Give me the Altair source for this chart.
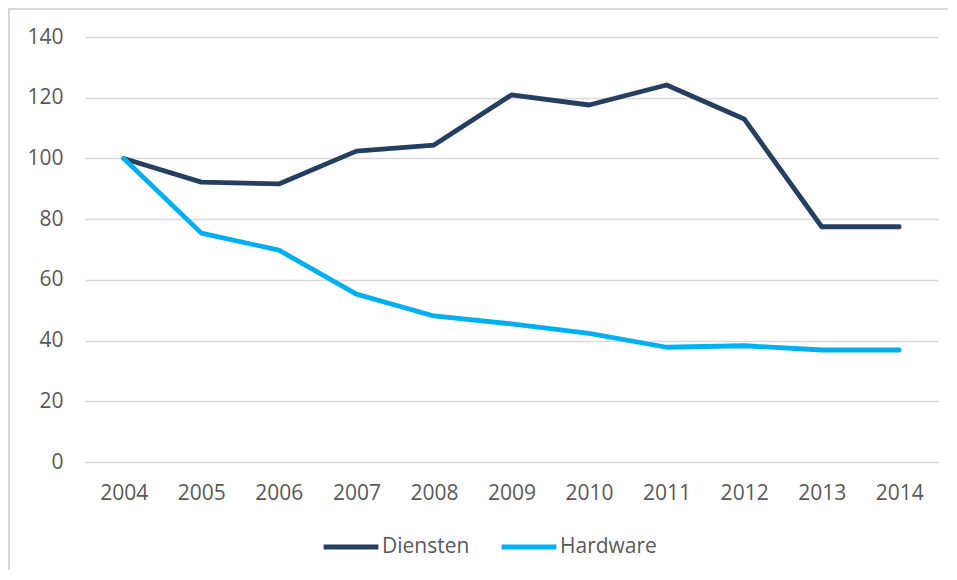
import altair as alt
import pandas as pd

years = ["2004", "2005", "2006", "2007", "2008", "2009", "2010", "2011", "2012", "2013", "2014"]
diensten = [100, 92.2, 91.6, 102.4, 104.4, 120.9, 117.6, 124.2, 113.0, 77.5, 77.5]
hardware = [100, 75.4, 69.8, 55.3, 48.1, 45.5, 42.4, 37.8, 38.3, 36.9, 36.9]
series_names = ["Diensten", "Hardware"]
series_colors = ["#243F60", "#00B0F0"]

rows = []
for y, d, h in zip(years, diensten, hardware):
    rows.append({"jaar": y, "serie": "Diensten", "waarde": d})
    rows.append({"jaar": y, "serie": "Hardware", "waarde": h})
df = pd.DataFrame(rows)

W, H = 853, 425
FONT = "Open Sans"

frame = alt.Chart(alt.Data(values=[{}])).mark_rect(
    filled=False, stroke="#d9d9d9", strokeWidth=2
).encode(
    x=alt.value(-76), x2=alt.value(W + 40),
    y=alt.value(-28), y2=alt.value(H + 140)
)

lines = alt.Chart(df).mark_line(strokeWidth=4.8, strokeCap="round", strokeJoin="round").encode(
    x=alt.X("jaar:N", sort=years,
            scale=alt.Scale(type="point", padding=0.5),
            axis=alt.Axis(title=None, labelAngle=0, ticks=False, domain=False,
                          grid=False, labelPadding=20)),
    y=alt.Y("waarde:Q",
            scale=alt.Scale(domain=[0, 140], nice=False),
            axis=alt.Axis(title=None, values=list(range(0, 141, 20)), ticks=False,
                          domain=False, grid=True, labelPadding=22)),
    color=alt.Color("serie:N", sort=series_names,
                    scale=alt.Scale(domain=series_names, range=series_colors),
                    legend=alt.Legend(title=None, orient="none", direction="horizontal",
                                      legendX=236, legendY=480,
                                      symbolType="stroke", symbolSize=3000,
                                      symbolStrokeWidth=4.8, columnPadding=22,
                                      labelOffset=1)),
)

chart = alt.layer(frame, lines).properties(
    width=W, height=H,
    autosize=alt.AutoSizeParams(type="none"),
    padding={"left": 77, "top": 29, "right": 10, "bottom": 108},
).configure_view(stroke=None).configure_axis(
    labelFont=FONT, labelFontSize=21, labelColor="#595959",
    gridColor="#d9d9d9", gridWidth=1.5,
).configure_legend(
    labelFont=FONT, labelFontSize=21, labelColor="#595959",
)

chart.save("out.html", embed_options={"renderer": "svg", "actions": False})
